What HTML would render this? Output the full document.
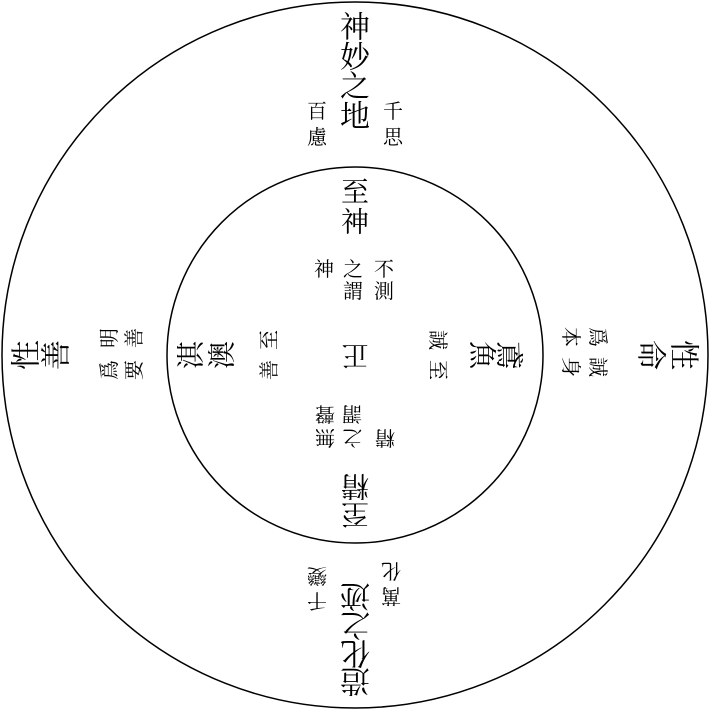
<!DOCTYPE html>
<html><head><meta charset="utf-8"><style>
html,body{margin:0;padding:0;background:#fff;}
svg{display:block;}
text{font-family:"Liberation Serif","Noto Serif CJK SC","Noto Sans CJK TC",serif;fill:#000;text-anchor:middle;dominant-baseline:central;}
.b{font-size:30px;}
.m{font-size:28px;}
.s{font-size:20px;}
</style></head><body>
<svg width="710" height="710" viewBox="0 0 710 710" xmlns="http://www.w3.org/2000/svg">
<circle cx="355" cy="355" r="353" fill="none" stroke="#000" stroke-width="1.5"/>
<circle cx="355" cy="355" r="188" fill="none" stroke="#000" stroke-width="1.5"/>

<g>
<text class="b" x="355" y="28">神</text>
<text class="b" x="355" y="58">妙</text>
<text class="b" x="355" y="87">之</text>
<text class="b" x="355" y="117">地</text>
<text class="s" x="393" y="112">千</text>
<text class="s" x="393" y="138">思</text>
<text class="s" x="317" y="112">百</text>
<text class="s" x="317" y="138">慮</text>
<text class="m" x="355" y="193">至</text>
<text class="m" x="355" y="223">神</text>
<text class="s" x="384" y="270">不</text>
<text class="s" x="384" y="292">測</text>
<text class="s" x="353" y="270">之</text>
<text class="s" x="353" y="292">謂</text>
<text class="s" x="324" y="270">神</text>
</g>

<g transform="rotate(90 355 355)">
<text class="b" x="355" y="27">性</text>
<text class="b" x="355" y="60">命</text>
<text class="s" x="337" y="113">爲</text>
<text class="s" x="337" y="140">本</text>
<text class="s" x="367" y="113">誠</text>
<text class="s" x="367" y="140">身</text>
<text class="m" x="355" y="202">鳶</text>
<text class="m" x="355" y="229">魚</text>
<text class="s" x="340" y="273">誠</text>
<text class="s" x="370" y="273">至</text>
</g>

<g transform="rotate(-90 355 355)">
<text class="b" x="355" y="27">性</text>
<text class="b" x="355" y="57">善</text>
<text class="s" x="372" y="110">明</text>
<text class="s" x="372" y="135">善</text>
<text class="s" x="340" y="110">爲</text>
<text class="s" x="340" y="135">要</text>
<text class="m" x="355" y="192">淇</text>
<text class="m" x="355" y="223">澳</text>
<text class="s" x="370" y="270">至</text>
<text class="s" x="340" y="270">善</text>
</g>

<g transform="rotate(180 355 355)">
<text class="b" x="355" y="30">造</text>
<text class="b" x="355" y="58">化</text>
<text class="b" x="355" y="86">之</text>
<text class="b" x="355" y="115">迹</text>
<text class="s" x="393" y="110">千</text>
<text class="s" x="393" y="135">變</text>
<text class="s" x="319" y="115">萬</text>
<text class="s" x="319" y="140">化</text>
<text class="m" x="355" y="197">至</text>
<text class="m" x="355" y="225">精</text>
<text class="s" x="385" y="273">無</text>
<text class="s" x="385" y="297">聲</text>
<text class="s" x="358" y="273">之</text>
<text class="s" x="358" y="297">謂</text>
<text class="s" x="325" y="273">精</text>
<text class="m" x="355" y="355" style="font-size:27px">正</text>
</g>
</svg>
</body></html>
